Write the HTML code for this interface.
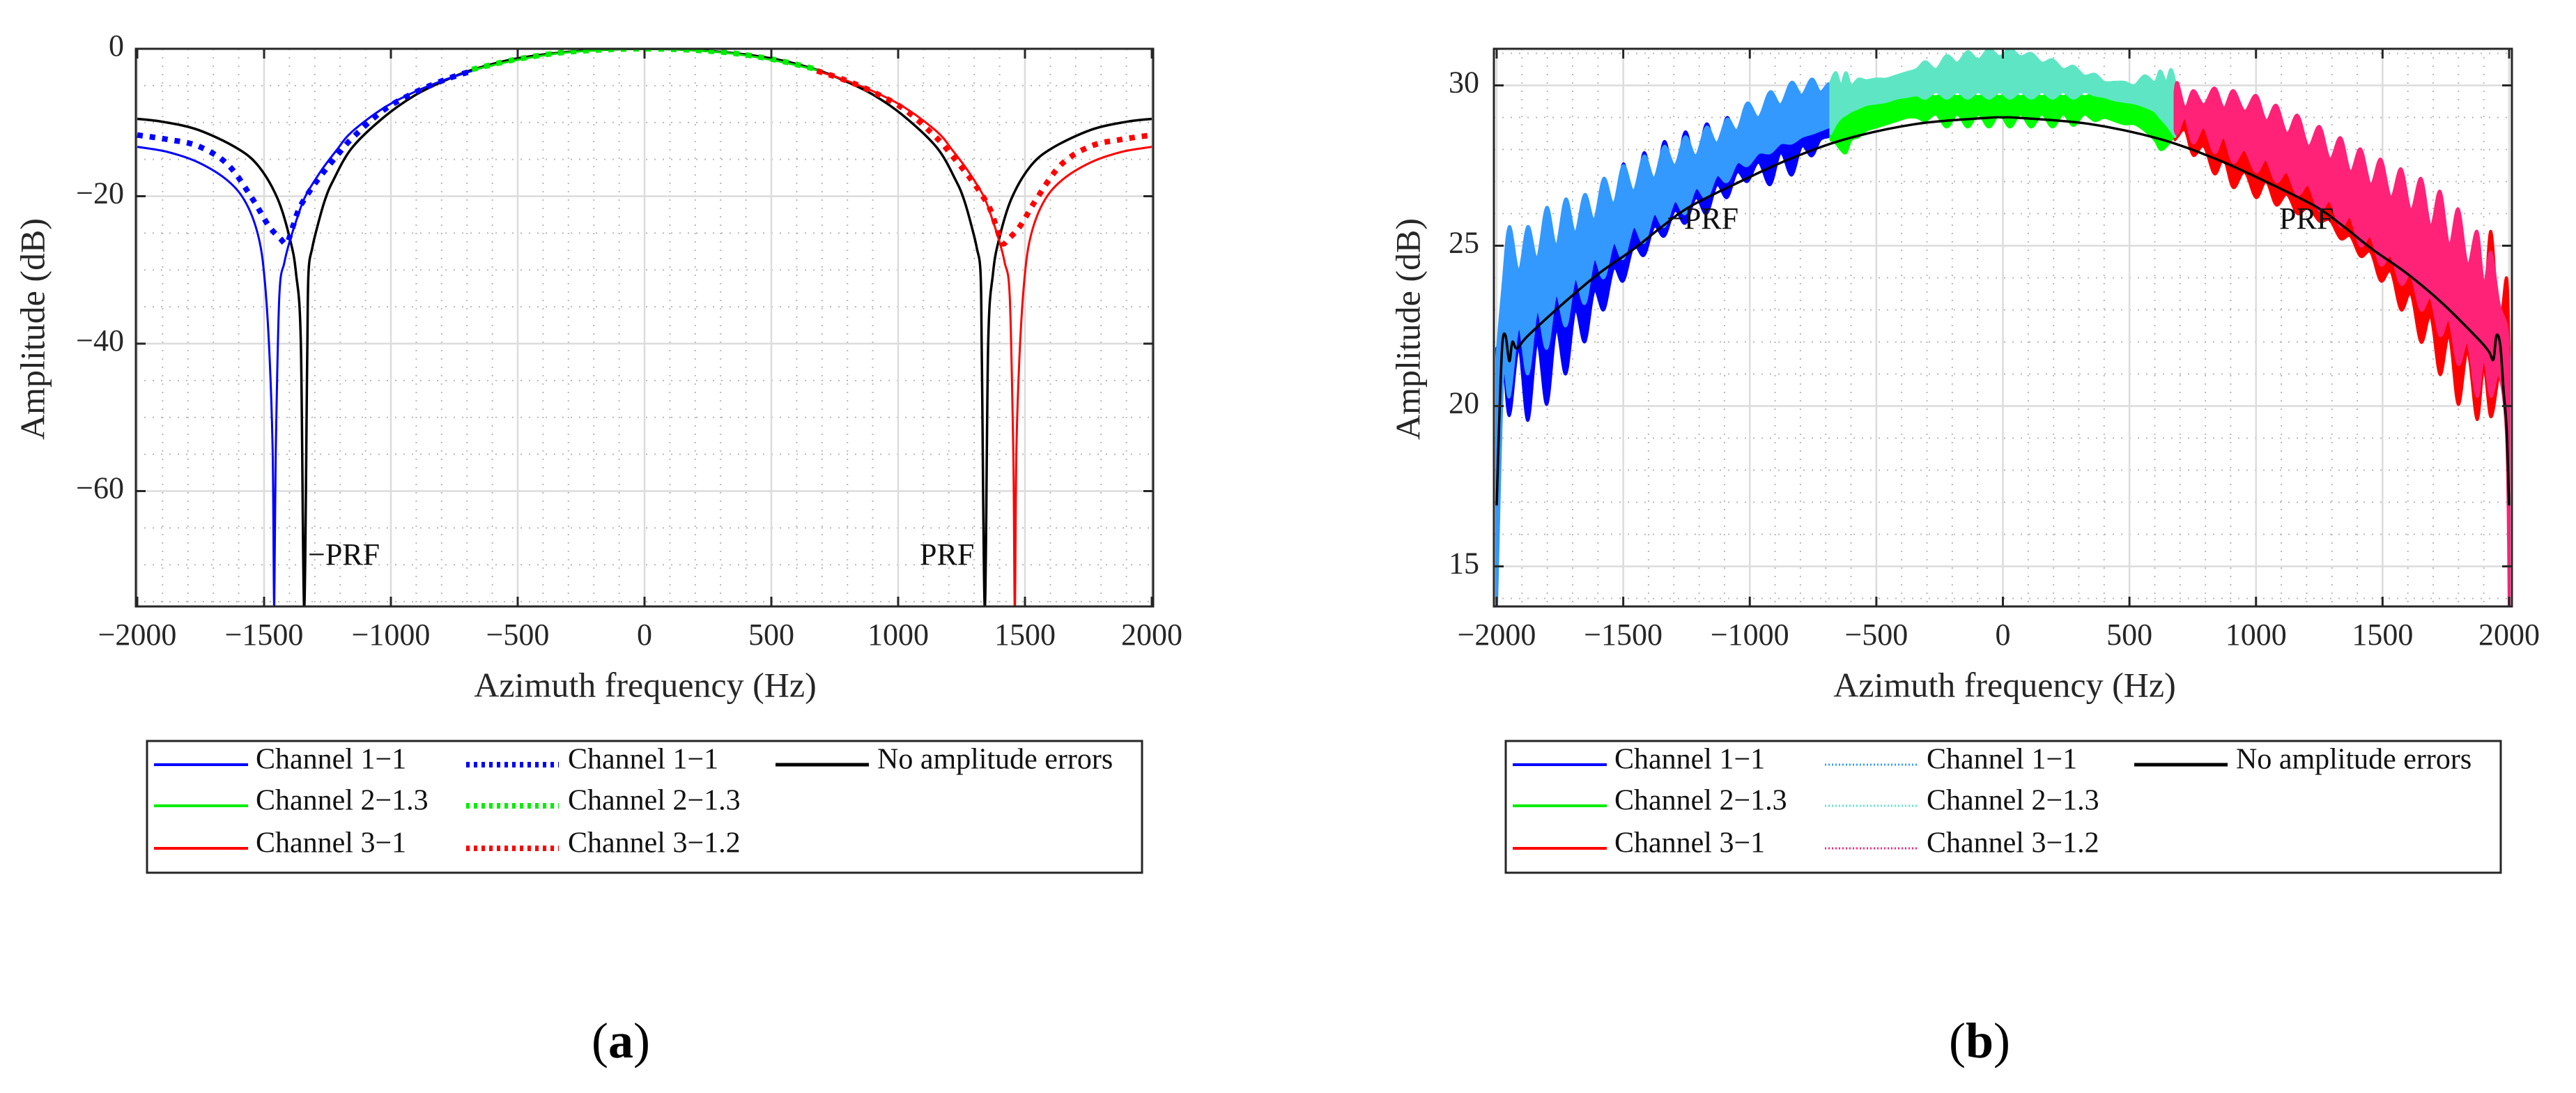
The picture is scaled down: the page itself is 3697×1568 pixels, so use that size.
<!DOCTYPE html>
<html><head><meta charset="utf-8"><style>
html,body{margin:0;padding:0;background:#fff;}
svg{display:block;font-family:"Liberation Serif",serif;}
</style></head><body>
<svg id="fig" width="3697" height="1568" viewBox="0 0 3697 1568" xmlns="http://www.w3.org/2000/svg">
<defs>
<clipPath id="clipA"><rect x="195" y="70" width="1460" height="800"/></clipPath>
<clipPath id="clipB"><rect x="2144" y="70" width="1461" height="800"/></clipPath>
</defs>
<g id="panelA"></g>
<g id="panelB"></g>
</svg>
<script>
// ---------- Panel (a) data ----------
const aXTicks = [-2000,-1500,-1000,-500,0,500,1000,1500,2000];
const aYTicks = [0,-20,-40,-60];
const aBlackF = [-2000,-1900,-1760,-1606,-1520,-1446,-1398,-1374,-1355,-1342,-1330,-1325,-1310,-1289,-1260,-1228,-1155,-1032,-910,-787,-665,-500,-290,0,290,500,665,787,910,1032,1155,1228,1260,1289,1310,1325,1330,1342,1355,1374,1398,1446,1520,1606,1760,1900,2000];
const aBlackV = [-9.5,-9.9,-11,-13.5,-16,-20.4,-25.8,-30.5,-40,-76,-42,-30.5,-27,-24,-20.5,-17.9,-13.5,-9.4,-6.4,-4.3,-2.7,-1.3,-0.4,0,-0.4,-1.3,-2.7,-4.3,-6.4,-9.4,-13.5,-17.9,-20.5,-24,-27,-30.5,-42,-76,-40,-30.5,-25.8,-20.4,-16,-13.5,-11,-9.9,-9.5];
const aCh1F = [-2000,-1880,-1760,-1643,-1570,-1520,-1496,-1478,-1466,-1460,-1454,-1440,-1420,-1398,-1370,-1337,-1276,-1215,-1155,-1032,-910,-787,-680];
const aCh1V = [-13.3,-14.0,-15.4,-17.9,-21,-25.8,-32,-42,-55,-76,-55,-33.7,-29,-26,-23,-20,-16.6,-13.8,-11.3,-8.1,-5.9,-4.2,-3.0];
const aCh1dF = [-2000,-1880,-1760,-1643,-1545,-1484,-1435,-1411,-1390,-1362,-1320,-1276,-1215,-1155,-1032,-910,-787,-680];
const aCh1dV = [-11.7,-12.3,-13.2,-15.7,-20.4,-23.9,-25.8,-26.4,-24.5,-21.7,-19.3,-17.2,-14.6,-12.2,-8.4,-6.0,-4.2,-3.0];
const aCh2F = [-680,-500,-290,0,290,500,680];
const aCh2V = [-2.9,-1.5,-0.45,0,-0.45,-1.5,-2.9];
const aCh2dV = [-2.8,-1.4,-0.4,0,-0.4,-1.4,-2.8];
const aCh3F = [680,787,910,1032,1155,1215,1276,1337,1370,1398,1420,1440,1454,1460,1466,1478,1496,1520,1570,1643,1760,1880,2000];
const aCh3V = [-3.0,-4.2,-5.9,-8.1,-11.3,-13.8,-16.6,-20,-23,-26,-29,-33.7,-55,-76,-55,-42,-32,-25.8,-21,-17.9,-15.4,-14.0,-13.3];
const aCh3dF = [680,787,910,1032,1155,1215,1276,1320,1362,1390,1411,1435,1484,1545,1643,1760,1880,2000];
const aCh3dV = [-3.0,-4.2,-6.0,-8.4,-12.2,-14.6,-17.2,-19.3,-21.7,-24.5,-26.4,-25.8,-23.9,-20.4,-15.7,-13.2,-12.3,-11.7];

// ---------- Panel (b) data ----------
const bXTicks = [-2000,-1500,-1000,-500,0,500,1000,1500,2000];
const bYTicks = [30,25,20,15];
const bBlackF = [-2000,-1990,-1978,-1965,-1950,-1938,-1920,-1877,-1737,-1597,-1458,-1346,-1234,-1038,-843,-619,-340,-60,0,60,340,619,843,1038,1234,1346,1458,1597,1737,1877,1920,1938,1950,1965,1978,1990,2000];
const bBlackV = [16.9,19.5,21.9,22.2,21.4,22.0,21.8,22.19,23.2,24.13,24.9,25.6,26.23,27.0,27.7,28.33,28.8,28.99,29.0,28.99,28.8,28.33,27.7,27.0,26.23,25.6,24.9,24.13,23.2,22.1,21.7,21.45,22.2,21.9,20.5,19.3,16.9];
const bCh1F = [-2000,-1975,-1950,-1913,-1877,-1840,-1802,-1765,-1727,-1690,-1652,-1615,-1577,-1538,-1500,-1459,-1418,-1378,-1338,-1296,-1255,-1213,-1171,-1130,-1090,-1050,-1010,-965,-920,-878,-835,-795,-755,-722,-690,-680];
const bCh1Up = [21.8,22.3,24.0,22.5,24.8,23.0,25.0,23.5,25.5,24.0,26.0,24.6,27.1,25.3,27.55,26.0,27.9,26.6,28.25,27.1,28.55,27.5,28.8,27.9,29.0,28.2,29.1,28.4,29.2,28.6,29.3,28.8,29.3,28.9,29.2,28.9];
const bCh1Lo = [20.9,21.5,19.7,21.8,19.55,22.0,20.05,22.4,21.0,23.0,22.0,23.6,23.0,24.3,23.9,25.0,24.7,25.6,25.3,26.1,25.7,26.5,26.0,26.9,26.5,27.3,27.0,27.6,26.9,27.9,27.2,28.1,27.8,28.3,28.4,28.5];
const bCh1dUp = [21.5,23.8,25.6,24.2,25.6,24.6,26.2,25.0,26.46,25.4,26.6,25.8,27.1,26.3,27.5,26.7,27.8,27.1,28.1,27.5,28.4,27.8,28.7,28.2,28.95,28.6,29.45,29.0,29.8,29.4,30.1,29.7,30.2,29.8,30.05,29.9];
const bCh1dLo = [13.8,21.0,20.3,22.5,21.0,23.0,21.8,23.5,22.5,24.0,23.2,24.6,24.0,25.1,24.6,25.6,25.1,26.0,25.6,26.4,26.0,26.8,26.5,27.2,27.0,27.6,27.5,27.9,27.9,28.2,28.2,28.4,28.5,28.6,28.7,28.7];
const bCh2F = [-680,-660,-640,-620,-600,-570,-540,-500,-460,-420,-380,-340,-306,-264,-222,-180,-139,-97,-55,-13,28,70,112,154,196,238,279,321,363,400,440,480,520,560,600,622,645,664,680];
const bCh2Up = [29.0,29.1,29.0,29.2,29.3,29.3,29.4,29.4,29.5,29.6,29.6,29.7,29.75,29.65,29.8,29.65,29.8,29.65,29.8,29.65,29.8,29.65,29.8,29.65,29.8,29.65,29.8,29.65,29.75,29.7,29.55,29.5,29.5,29.4,29.3,29.2,29.3,29.3,29.4];
const bCh2Lo = [28.3,28.2,28.0,27.9,28.3,28.4,28.6,28.7,28.8,28.9,29.0,29.0,28.9,29.1,28.7,29.1,28.7,29.1,28.7,29.1,28.7,29.1,28.7,29.1,28.7,29.1,28.75,29.1,28.9,29.0,28.9,28.8,28.8,28.6,28.3,28.0,28.1,28.3,28.4];
const bCh2dUp = [30.1,30.4,30.0,30.4,30.0,30.2,30.15,30.2,30.2,30.3,30.4,30.5,30.74,30.5,30.93,30.7,31.05,30.8,31.13,30.9,31.13,30.9,31.0,30.7,30.8,30.5,30.6,30.3,30.35,30.1,30.1,30.1,30.0,30.3,30.1,30.45,30.1,30.5,30.1];
const bCh2dLo = [28.5,28.8,29.0,29.1,29.2,29.3,29.4,29.45,29.5,29.6,29.65,29.7,29.6,29.8,29.6,29.8,29.6,29.8,29.6,29.8,29.6,29.8,29.6,29.8,29.6,29.8,29.6,29.8,29.7,29.65,29.55,29.5,29.45,29.35,29.2,29.0,28.8,28.6,28.4];
const bCh3F = [680,690,720,752,794,836,873,910,955,1000,1040,1080,1122,1164,1207,1251,1292,1334,1373,1413,1453,1493,1533,1573,1612,1652,1690,1727,1763,1799,1836,1873,1900,1928,1960,1990,2000];
const bCh3Up = [29.6,29.8,28.9,29.6,28.8,29.6,28.6,29.5,28.4,29.3,28.1,29.0,27.7,28.7,27.3,28.4,26.9,28.0,26.4,27.7,26.0,27.4,25.5,27.0,25.0,26.7,24.4,26.3,23.8,25.8,23.2,25.2,23.0,25.45,22.5,24.0,21.8];
const bCh3Lo = [28.3,28.4,28.6,27.82,28.1,27.24,27.7,26.81,27.3,26.5,27.0,26.27,26.6,26.0,26.2,25.76,25.8,25.22,25.3,24.67,24.8,23.9,24.2,23.0,23.5,21.99,22.8,20.98,22.2,20.05,21.7,19.58,21.2,19.66,21.0,21.8,21.2];
const bCh3dUp = [29.8,30.08,29.3,29.84,29.4,29.92,29.3,29.84,29.2,29.69,28.9,29.38,28.5,29.07,28.1,28.72,27.7,28.37,27.3,28.02,26.9,27.7,26.5,27.4,26.1,27.1,25.6,26.7,25.0,26.15,24.4,25.45,23.8,24.8,23.2,22.5,21.5];
const bCh3dLo = [28.6,28.5,29.0,28.2,28.7,27.9,28.4,27.6,28.0,27.3,27.7,27.0,27.3,26.6,26.9,26.1,26.4,25.6,25.9,25.0,25.3,24.4,24.7,23.8,24.1,23.0,23.4,22.2,22.7,21.3,22.0,20.3,21.5,20.3,21.0,19.0,13.8];

const NS = "http://www.w3.org/2000/svg";
function mk(parent, tag, attrs, text){
  const e = document.createElementNS(NS, tag);
  for (const k in attrs) e.setAttribute(k, attrs[k]);
  if (text !== undefined) e.textContent = text;
  parent.appendChild(e);
  return e;
}
function fmt(v){ return (v<0 ? "\u2212" + Math.abs(v) : String(v)); }

// axis functions
const A = {L:195, R:1655, T:70, B:870};
function xA(f){ return 197 + (f + 2000) * (1653 - 197) / 4000; }
function yA(v){ return 70 - v * 10.575; }
const Bx = {L:2144, R:3605, T:70, B:870};
function xB(f){ return 2148 + (f + 2000) * (3601 - 2148) / 4000; }
function yB(v){ return 122.5 + (30 - v) * 46; }

function toPts(fs, vs, xf, yf){ return fs.map((f,i) => [xf(f), yf(vs[i])]); }
// Catmull-Rom smoothing segment string (without initial M)
function crSegs(p){
  let d = "";
  for (let i = 0; i < p.length - 1; i++){
    const p0 = p[Math.max(0,i-1)], p1 = p[i], p2 = p[i+1], p3 = p[Math.min(p.length-1,i+2)];
    const c1x = p1[0] + (p2[0]-p0[0])/6, c1y = p1[1] + (p2[1]-p0[1])/6;
    const c2x = p2[0] - (p3[0]-p1[0])/6, c2y = p2[1] - (p3[1]-p1[1])/6;
    d += " C" + c1x.toFixed(1) + "," + c1y.toFixed(1) + " " + c2x.toFixed(1) + "," + c2y.toFixed(1) + " " + p2[0].toFixed(1) + "," + p2[1].toFixed(1);
  }
  return d;
}
function smoothLine(fs, vs, xf, yf){
  const p = toPts(fs, vs, xf, yf);
  return "M" + p[0][0].toFixed(1) + "," + p[0][1].toFixed(1) + crSegs(p);
}
function smoothBand(fs, up, lo, xf, yf){
  const a = toPts(fs, up, xf, yf);
  const b = toPts(fs, lo, xf, yf).reverse();
  return "M" + a[0][0].toFixed(1) + "," + a[0][1].toFixed(1) + crSegs(a) +
         " L" + b[0][0].toFixed(1) + "," + b[0][1].toFixed(1) + crSegs(b) + " Z";
}

function drawGrid(g, box, xf, yf, xmin, xmax, xstepMinor, ymin, ymax, ystepMinor, xTicks, yTicks){
  for (let f = xmin; f <= xmax; f += xstepMinor){
    const el = mk(g, "line", {x1:xf(f), x2:xf(f), y1:box.T, y2:box.B, stroke:"#b8b8b8", "stroke-width":2, "stroke-dasharray":"2 10"});
    
    
  }
  for (let v = ymin; v <= ymax; v += ystepMinor){
    const y = yf(v);
    if (y < box.T || y > box.B) continue;
    const el = mk(g, "line", {x1:box.L, x2:box.R, y1:y, y2:y, stroke:"#b8b8b8", "stroke-width":2, "stroke-dasharray":"2 10"});
    
    
  }
  xTicks.forEach(f => {
    const el = mk(g, "line", {x1:xf(f), x2:xf(f), y1:box.T, y2:box.B, stroke:"#dcdcdc", "stroke-width":2.5});
    
    
  });
  yTicks.forEach(v => {
    const el = mk(g, "line", {x1:box.L, x2:box.R, y1:yf(v), y2:yf(v), stroke:"#dcdcdc", "stroke-width":2.5});
    
    
  });
}
function drawAxes(g, box, xf, yf, xTicks, yTicks, ylabX, ytitleX, xtitleX){
  const fr = mk(g, "rect", {x:box.L, y:box.T, width:box.R-box.L, height:box.B-box.T, fill:"none", stroke:"#262626", "stroke-width":3});
  
  
  xTicks.forEach(f => {
    const x = xf(f);
    mk(g, "line", {x1:x, x2:x, y1:box.B, y2:box.B-14, stroke:"#262626", "stroke-width":3});
    mk(g, "line", {x1:x, x2:x, y1:box.T, y2:box.T+14, stroke:"#262626", "stroke-width":3});
    const t = mk(g, "text", {x:x, y:915, "font-size":44, "text-anchor":"middle", "dominant-baseline":"middle", fill:"#262626"}, fmt(f));
    
    
  });
  yTicks.forEach(v => {
    const y = yf(v);
    mk(g, "line", {x1:box.L, x2:box.L+14, y1:y, y2:y, stroke:"#262626", "stroke-width":3});
    mk(g, "line", {x1:box.R, x2:box.R-14, y1:y, y2:y, stroke:"#262626", "stroke-width":3});
    const t = mk(g, "text", {x:ylabX, y:y, "font-size":44, "text-anchor":"end", "dominant-baseline":"middle", fill:"#262626"}, fmt(v));
    
    
  });
  const xt = mk(g, "text", {x:xtitleX, y:988, "font-size":50, "text-anchor":"middle", "dominant-baseline":"middle", fill:"#262626"}, "Azimuth frequency (Hz)");
  
  
  const yt = mk(g, "text", {x:ytitleX, y:472, "font-size":50, "text-anchor":"middle", "dominant-baseline":"middle", fill:"#262626", transform:"rotate(-90 "+ytitleX+" 472)"}, "Amplitude (dB)");
  
  
}
function drawLegend(g, x0, styles){
  const box = mk(g, "rect", {x:x0, y:1063, width:1428, height:189, fill:"#fff", stroke:"#262626", "stroke-width":3});
  
  
  const cols = [[10,145,156],[458,591,604],[902,1036,1048]];
  const rows = [1093,1152,1213];
  styles.forEach(s => {
    const c = cols[s.col], y = rows[s.row];
    const ln = mk(g, "line", {x1:x0+c[0], x2:x0+c[1], y1:y+4, y2:y+4, stroke:s.color, "stroke-width":s.w, "stroke-dasharray":s.dash||"none"});
    
    
    const t = mk(g, "text", {x:x0+c[2], y:y, "font-size":42, "dominant-baseline":"middle", fill:"#111"}, s.label);
    
    
  });
}

// ---------- Panel A ----------
const gA = document.getElementById("panelA");
drawGrid(gA, A, xA, yA, -2000, 2000, 100, -75, 0, 5, aXTicks, aYTicks);
const cA = mk(gA, "g", {"clip-path":"url(#clipA)", fill:"none", "stroke-linejoin":"round"});


const aSeries = [
  {f:aBlackF, v:aBlackV, c:"#000", w:3.5, d:"none", n:"no-amplitude-errors-line"},
  {f:aCh1F, v:aCh1V, c:"#0000ff", w:3, d:"none", n:"channel-1-solid-line"},
  {f:aCh2F, v:aCh2V, c:"#00dd00", w:3, d:"none", n:"channel-2-solid-line"},
  {f:aCh3F, v:aCh3V, c:"#ff0000", w:3, d:"none", n:"channel-3-solid-line"},
  {f:aCh1dF, v:aCh1dV, c:"#0000ff", w:8, d:"8 10", n:"channel-1-dashed-line"},
  {f:aCh2F, v:aCh2dV, c:"#00ee00", w:8, d:"8 10", n:"channel-2-dashed-line"},
  {f:aCh3dF, v:aCh3dV, c:"#ff0000", w:8, d:"8 10", n:"channel-3-dashed-line"}
];
aSeries.forEach(s => {
  const p = mk(cA, "path", {d:smoothLine(s.f, s.v, xA, yA), stroke:s.c, "stroke-width":s.w, "stroke-dasharray":s.d});
  
  
});
drawAxes(gA, A, xA, yA, aXTicks, aYTicks, 178, 52, 926);
{
  const t1 = mk(gA, "text", {x:442, y:800, "font-size":44, "dominant-baseline":"middle", fill:"#111"}, "\u2212PRF");
  
  
  const t2 = mk(gA, "text", {x:1320, y:800, "font-size":44, "dominant-baseline":"middle", fill:"#111"}, "PRF");
  
  
}
drawLegend(gA, 211, [
  {col:0,row:0,color:"#0000ff",w:4,label:"Channel 1\u22121"},
  {col:0,row:1,color:"#00ee00",w:4,label:"Channel 2\u22121.3"},
  {col:0,row:2,color:"#ff0000",w:4,label:"Channel 3\u22121"},
  {col:1,row:0,color:"#0000ff",w:8,dash:"5 6",label:"Channel 1\u22121"},
  {col:1,row:1,color:"#00ee00",w:8,dash:"5 6",label:"Channel 2\u22121.3"},
  {col:1,row:2,color:"#ff0000",w:8,dash:"5 6",label:"Channel 3\u22121.2"},
  {col:2,row:0,color:"#000",w:5,label:"No amplitude errors"}
]);
{
  const cap = mk(gA, "text", {x:891, y:1500, "font-size":72, "text-anchor":"middle", "dominant-baseline":"middle", fill:"#000"});
  
  
  mk(cap, "tspan", {}, "(");
  mk(cap, "tspan", {"font-weight":"bold"}, "a");
  mk(cap, "tspan", {}, ")");
}

// ---------- Panel B ----------
const gB = document.getElementById("panelB");
drawGrid(gB, Bx, xB, yB, -2000, 2000, 100, 14, 31, 1, bXTicks, bYTicks);
const cB = mk(gB, "g", {"clip-path":"url(#clipB)", "stroke-linejoin":"round"});


const bBands = [
  {f:bCh1F, u:bCh1Up, l:bCh1Lo, c:"#0000ff", n:"channel-1-solid-band"},
  {f:bCh2F, u:bCh2Up, l:bCh2Lo, c:"#00ff00", n:"channel-2-solid-band"},
  {f:bCh3F, u:bCh3Up, l:bCh3Lo, c:"#ff0000", n:"channel-3-solid-band"},
  {f:bCh1F, u:bCh1dUp, l:bCh1dLo, c:"#3399ff", n:"channel-1-dashed-band"},
  {f:bCh2F, u:bCh2dUp, l:bCh2dLo, c:"#5ee6c4", n:"channel-2-dashed-band"},
  {f:bCh3F, u:bCh3dUp, l:bCh3dLo, c:"#ff2277", n:"channel-3-dashed-band"}
];
bBands.forEach(s => {
  const p = mk(cB, "path", {d:smoothBand(s.f, s.u, s.l, xB, yB), fill:s.c, stroke:s.c, "stroke-width":4});
  
  
});
{
  const p = mk(cB, "path", {d:smoothLine(bBlackF, bBlackV, xB, yB), fill:"none", stroke:"#000", "stroke-width":3.5});
  
  
}
drawAxes(gB, Bx, xB, yB, bXTicks, bYTicks, 2123, 2026, 2877);
{
  const t1 = mk(gB, "text", {x:2392, y:318, "font-size":44, "dominant-baseline":"middle", fill:"#111"}, "\u2212PRF");
  
  
  const t2 = mk(gB, "text", {x:3271, y:318, "font-size":44, "dominant-baseline":"middle", fill:"#111"}, "PRF");
  
  
}
drawLegend(gB, 2161, [
  {col:0,row:0,color:"#0000ff",w:4,label:"Channel 1\u22121"},
  {col:0,row:1,color:"#00ee00",w:4,label:"Channel 2\u22121.3"},
  {col:0,row:2,color:"#ff0000",w:4,label:"Channel 3\u22121"},
  {col:1,row:0,color:"#3399ff",w:3,dash:"2 3",label:"Channel 1\u22121"},
  {col:1,row:1,color:"#5ee6c4",w:3,dash:"2 3",label:"Channel 2\u22121.3"},
  {col:1,row:2,color:"#ff2277",w:3,dash:"2 3",label:"Channel 3\u22121.2"},
  {col:2,row:0,color:"#000",w:5,label:"No amplitude errors"}
]);
{
  const cap = mk(gB, "text", {x:2841, y:1500, "font-size":72, "text-anchor":"middle", "dominant-baseline":"middle", fill:"#000"});
  
  
  mk(cap, "tspan", {}, "(");
  mk(cap, "tspan", {"font-weight":"bold"}, "b");
  mk(cap, "tspan", {}, ")");
}
</script>
</body></html>
